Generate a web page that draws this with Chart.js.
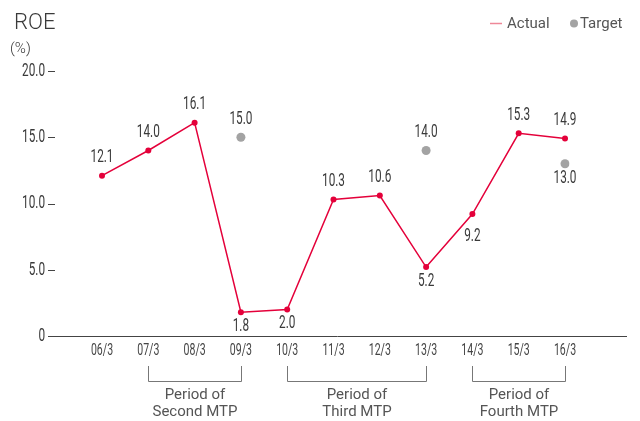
<!DOCTYPE html>
<html>
<head>
<meta charset="utf-8">
<script src="https://cdn.jsdelivr.net/npm/chart.js@4"></script>
<style>
    html, body { margin: 0; padding: 0; background: #fff; }
    #wrap { width: 640px; height: 421px; }
</style>
</head>
<body>
<div id="wrap"><canvas id="roeChart" width="640" height="421"></canvas></div>
<script>
// fiscal year ends
const years = ['06/3', '07/3', '08/3', '09/3', '10/3', '11/3', '12/3', '13/3', '14/3', '15/3', '16/3'];
// ROE results and MTP targets (%)
const actual = [12.1, 14.0, 16.1, 1.8, 2.0, 10.3, 10.6, 5.2, 9.2, 15.3, 14.9];
const target = [null, null, null, 15.0, null, null, null, 14.0, null, null, 13.0];
// where each value label sits relative to its point
const actualLabelSide = ['up', 'up', 'up', 'down', 'down', 'up', 'up', 'down', 'down', 'up', 'up'];
const targetLabelSide = [null, null, null, 'up', null, null, null, 'up', null, null, 'down'];
const yTicks = [0, 5, 10, 15, 20];
// medium-term plan periods: [first year, last year, line 1, line 2]
const periods = [
    ['07/3', '09/3', 'Period of', 'Second MTP'],
    ['10/3', '13/3', 'Period of', 'Third MTP'],
    ['14/3', '16/3', 'Period of', 'Fourth MTP']
];

const RED = '#e4003a';
const GREY = '#a3a3a3';
const TEXT = '#3a3a3a';
const PLAIN = 'Roboto, "Noto Sans", sans-serif';

// numbers are set in a squeezed face, so draw them scaled horizontally
function narrowText(ctx, text, x, y, align, size) {
    ctx.save();
    ctx.translate(x, y);
    ctx.scale(0.62, 1);
    ctx.font = size + 'px ' + PLAIN;
    ctx.textAlign = align;
    ctx.textBaseline = 'middle';
    ctx.fillText(text, 0, 0);
    ctx.restore();
}

// extra drawing: title, legend, axis line, ticks, value labels, period brackets
const decorations = {
    id: 'decorations',
    afterDraw(chart) {
        const ctx = chart.ctx;
        const area = chart.chartArea;
        const x = chart.scales.x;
        const y = chart.scales.y;
        ctx.save();

        // title and unit
        ctx.fillStyle = TEXT;
        ctx.textAlign = 'left';
        ctx.textBaseline = 'alphabetic';
        ctx.font = '300 22px ' + PLAIN;
        ctx.fillText('ROE', 14, 29);
        ctx.font = '300 15px ' + PLAIN;
        ctx.fillText('(%)', 10, 53);

        // legend
        ctx.font = '15px ' + PLAIN;
        ctx.fillStyle = '#555';
        ctx.textBaseline = 'middle';
        ctx.strokeStyle = '#ee8898';
        ctx.lineWidth = 1.5;
        ctx.beginPath();
        ctx.moveTo(490, 23.5);
        ctx.lineTo(502, 23.5);
        ctx.stroke();
        ctx.fillText(chart.data.datasets[0].label, 507, 24);
        ctx.fillStyle = GREY;
        ctx.beginPath();
        ctx.arc(574, 23.5, 4, 0, Math.PI * 2);
        ctx.fill();
        ctx.fillStyle = '#555';
        ctx.fillText(chart.data.datasets[1].label, 580, 24);

        // x axis line, running past the plot on both sides
        const base = Math.round(y.getPixelForValue(0)) + 0.5;
        ctx.strokeStyle = '#444';
        ctx.lineWidth = 1;
        ctx.beginPath();
        ctx.moveTo(area.left - 54, base);
        ctx.lineTo(area.right + 62, base);
        ctx.stroke();

        // y ticks: label followed by a short dash
        ctx.fillStyle = TEXT;
        yTicks.forEach(v => {
            const py = y.getPixelForValue(v);
            narrowText(ctx, v === 0 ? '0' : v.toFixed(1), area.left - 57, py, 'right', 19);
            if (v === 0) return;
            const ly = Math.round(py) + 0.5;
            ctx.beginPath();
            ctx.moveTo(area.left - 54, ly);
            ctx.lineTo(area.left - 47, ly);
            ctx.stroke();
        });

        // x tick labels
        ctx.fillStyle = '#444';
        years.forEach((yr, i) => {
            narrowText(ctx, yr, x.getPixelForValue(i), base + 14, 'center', 17);
        });

        // value labels
        ctx.fillStyle = TEXT;
        const drawLabels = (datasetIndex, values, sides) => {
            const meta = chart.getDatasetMeta(datasetIndex);
            values.forEach((v, i) => {
                if (v === null) return;
                const pt = meta.data[i];
                let dy = sides[i] === 'up' ? -18 : 14;
                if (datasetIndex === 0 && years[i] === '14/3') dy = 22;
                narrowText(ctx, v.toFixed(1), pt.x, pt.y + dy, 'center', 19);
            });
        };
        drawLabels(0, actual, actualLabelSide);
        drawLabels(1, target, targetLabelSide);

        // period brackets under the axis
        ctx.strokeStyle = '#777';
        ctx.fillStyle = '#555';
        ctx.font = '15px ' + PLAIN;
        ctx.textAlign = 'center';
        ctx.textBaseline = 'middle';
        periods.forEach(([from, to, line1, line2]) => {
            const x1 = Math.round(x.getPixelForValue(years.indexOf(from))) + 0.5;
            const x2 = Math.round(x.getPixelForValue(years.indexOf(to))) + 0.5;
            ctx.beginPath();
            ctx.moveTo(x1, 366);
            ctx.lineTo(x1, 381.5);
            ctx.lineTo(x2, 381.5);
            ctx.lineTo(x2, 366);
            ctx.stroke();
            const cx = (x1 + x2) / 2;
            ctx.fillText(line1, cx, 395);
            ctx.fillText(line2, cx, 412);
        });

        ctx.restore();
    }
};

new Chart(document.getElementById('roeChart'), {
    type: 'line',
    data: {
        labels: years,
        datasets: [{
            label: 'Actual',
            data: actual,
            borderColor: RED,
            backgroundColor: RED,
            borderWidth: 1.5,
            pointRadius: 3,
            pointBorderWidth: 0,
            tension: 0
        }, {
            label: 'Target',
            data: target,
            showLine: false,
            borderColor: GREY,
            backgroundColor: GREY,
            pointRadius: 4.5,
            pointBorderWidth: 0
        }]
    },
    options: {
        responsive: false,
        animation: false,
        layout: {
            padding: { top: 71, right: 75, left: 0, bottom: 0 }
        },
        plugins: {
            legend: { display: false },
            tooltip: { enabled: false }
        },
        scales: {
            x: {
                type: 'category',
                offset: false,
                grid: { display: false },
                border: { display: false },
                ticks: { display: false },
                afterFit(scale) { scale.height = 85; }
            },
            y: {
                min: 0,
                max: 20,
                grid: { display: false, drawTicks: false },
                border: { display: false },
                afterBuildTicks(scale) {
                    scale.ticks = yTicks.map(v => ({ value: v }));
                },
                ticks: { display: false },
                afterFit(scale) { scale.width = 102; }
            }
        }
    },
    plugins: [decorations]
});
</script>
</body>
</html>
